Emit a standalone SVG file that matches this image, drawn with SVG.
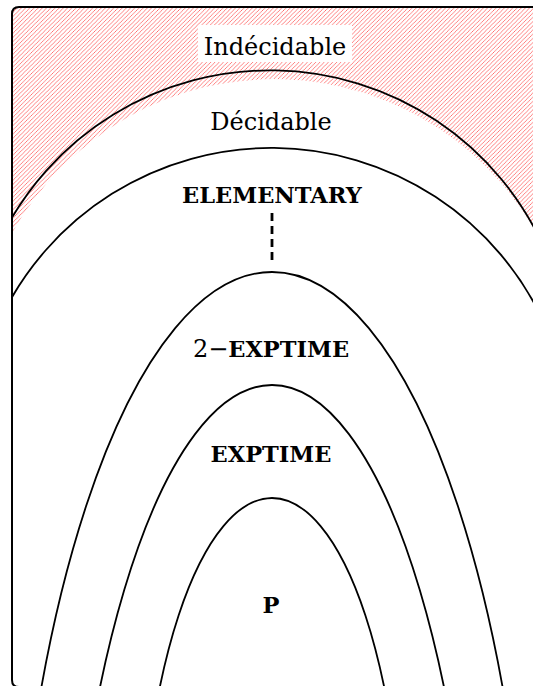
<svg xmlns="http://www.w3.org/2000/svg" width="533" height="686" viewBox="0 0 533 686">
  <style>
    .curve { fill: none; stroke: #000; stroke-width: 1.8; }
    .reg { font-family: "DejaVu Serif", "Liberation Serif", serif; font-size: 24px; fill: #000; }
    .bold { font-family: "DejaVu Serif", "Liberation Serif", serif; font-size: 22.5px; font-weight: bold; fill: #000; }
  </style>
  <defs>
    <pattern id="hatch" patternUnits="userSpaceOnUse" width="4.2" height="4.2">
      <path d="M-1,1 L1,-1 M0,4.2 L4.2,0 M3.2,5.2 L5.2,3.2" stroke="#ff2020" stroke-opacity="0.7" stroke-width="0.8"/>
    </pattern>
    <clipPath id="frameClip">
      <rect x="12" y="7" width="540" height="690" rx="7"/>
    </clipPath>
  </defs>
  <rect width="533" height="686" fill="#fff"/>
  <g id="undecidable">
    <path d="M12,233.3 L12,14 Q12,7 19,7 L545,7 L545,250 A300,300 0 0 0 12,233.3 Z" fill="url(#hatch)"/>
    <rect x="198" y="25" width="154" height="37" fill="#fff"/>
    <text class="reg" x="275" y="55" text-anchor="middle">Indécidable</text>
  </g>
  <g id="connectors">
    <line x1="272" y1="213" x2="272" y2="264" stroke="#000" stroke-width="2.8" stroke-dasharray="8 5"/>
  </g>
  <g clip-path="url(#frameClip)">
    <g id="decidable">
      <path class="curve" d="M0,240 A300,300 0 0 1 545,250"/>
      <text class="reg" x="271" y="130" text-anchor="middle">Décidable</text>
    </g>
    <g id="elementary">
      <path class="curve" d="M0,320 A300,300 0 0 1 545,325"/>
      <text class="bold" x="272" y="203" text-anchor="middle">ELEMENTARY</text>
    </g>
  </g>
  <g id="exptime2">
    <ellipse class="curve" cx="272" cy="1072" rx="263" ry="800"/>
    <text x="271" y="357" text-anchor="middle"><tspan class="reg">2−</tspan><tspan class="bold">EXPTIME</tspan></text>
  </g>
  <g id="exptime">
    <ellipse class="curve" cx="272" cy="1085" rx="209" ry="700"/>
    <text class="bold" x="271" y="462" text-anchor="middle">EXPTIME</text>
  </g>
  <g id="p">
    <ellipse class="curve" cx="272" cy="898" rx="132" ry="400"/>
    <text class="bold" x="271" y="613" text-anchor="middle">P</text>
  </g>
  <path id="frame" d="M545,7 L19,7 Q12,7 12,14 L12,680 Q12,687 19,687 L545,687" fill="none" stroke="#000" stroke-width="2"/>
</svg>
